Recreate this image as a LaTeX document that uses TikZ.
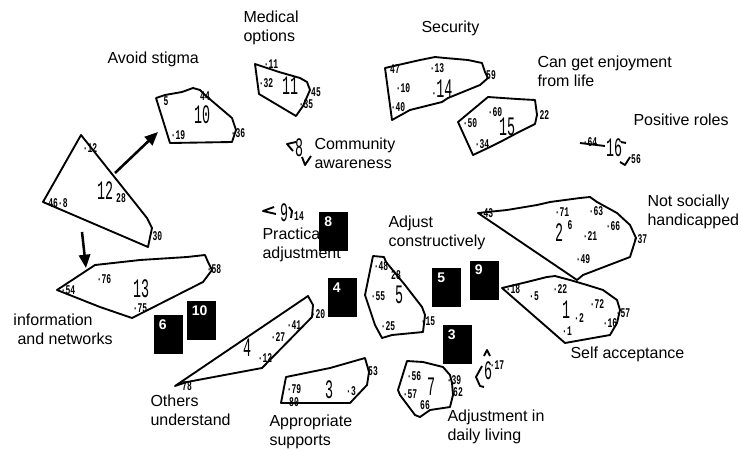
\documentclass[tikz,border=0pt]{standalone}
\usepackage{fontspec}
\setmainfont{Liberation Sans}
\newfontfamily\stmtfont[FakeStretch=0.6]{Liberation Mono}
\newfontfamily\clusfont[FakeStretch=0.5]{Liberation Mono}
\usetikzlibrary{arrows.meta}

\tikzset{every picture/.style={line width=0.75pt}}
\tikzset{
  cluline/.style={line width=1.4pt, line join=round},
  arr/.style={line width=1.9pt, -{Triangle[length=10pt,width=8.5pt]}},
  lbl/.style={anchor=north west, inner sep=0.75pt, align=left, font=\fontsize{12}{14.25}\selectfont},
  stmt/.style={inner sep=0pt, font=\stmtfont\bfseries\fontsize{10}{10}\selectfont},
  clus/.style={inner sep=0pt, font=\clusfont\fontsize{20}{20}\selectfont},
  numbox/.style={fill=black, inner sep=0pt, minimum width=21.75pt, minimum height=29.25pt},
  boxnum/.style={anchor=north west, inner sep=0pt, xshift=4pt, yshift=-3.5pt, text=white, font=\bfseries\fontsize{10.5}{10.5}\selectfont}
}

\begin{document}
\begin{tikzpicture}[x=0.75pt,y=0.75pt,yscale=-1,xscale=1]
	\useasboundingbox (0,0) rectangle (741,450);
	
	%Shape: Cluster 12
	\draw[cluline] (81,135) -- (147,218) -- (152,228) -- (148,247) -- (43,202) -- cycle ;
	\node[clus] (c12) at (105,191) {12};
	\node[stmt] (s12-12) at (90,148) {·12};
	\node[stmt] (s12-28) at (121,198) {28};
	\node[stmt] (s12-46) at (58,203) {46·8};
	\node[stmt] (s12-30) at (155,236) {·30};
	%Shape: Cluster 10
	\draw[cluline] (156,98) -- (165,95) -- (182,92) -- (193,88) -- (200,90) -- (205,95) -- (232,118) -- (236,130) -- (232,142) -- (170,143) -- cycle ;
	\node[clus] (c10) at (202,115) {10};
	\node[stmt] (s10-5) at (166,101) {5};
	\node[stmt] (s10-44) at (205,96) {44};
	\node[stmt] (s10-19) at (178,135) {·19};
	\node[stmt] (s10-36) at (238,133) {·36};
	%Shape: Cluster 11
	\draw[cluline] (255,64) -- (279,72) -- (300,78) -- (307,82) -- (310,90) -- (303,106) -- (296,116) -- (259,94) -- cycle ;
	\node[clus] (c11) at (290,86) {11};
	\node[stmt] (s11-11) at (271,64) {·11};
	\node[stmt] (s11-32) at (266,83) {·32};
	\node[stmt] (s11-45) at (316,92) {45};
	\node[stmt] (s11-35) at (306,104) {·35};
	%Shape: Cluster 8
	\draw[cluline] (296,142) -- (287,144) -- (293,151) ;
	\draw[cluline] (302,157) -- (305,165) -- (311,156) ;
	\node[clus] (c8) at (299,148) {8};
	%Shape: Cluster 9
	\draw[cluline] (274,207) -- (263,211) -- (276,214) ;
	\draw[cluline] (289,207) -- (292,211) -- (291,218) ;
	\node[clus] (c9) at (284,213) {9};
	\node[stmt] (s9-14) at (299,216) {14};
	%Shape: Cluster 14
	\draw[cluline] (385,68) -- (420,60) -- (435,57) -- (445,58) -- (468,60) -- (482,63) -- (485,72) -- (488,78) -- (480,85) -- (448,98) -- (442,102) -- (410,110) -- (392,120) -- cycle ;
	\node[clus] (c14) at (442,89) {{\stmtfont\bfseries\fontsize{10}{10}\selectfont·}14};
	\node[stmt] (s14-47) at (395,69) {47};
	\node[stmt] (s14-13) at (437,68) {·13};
	\node[stmt] (s14-10) at (403,88) {·10};
	\node[stmt] (s14-40) at (398,107) {·40};
	\node[stmt] (s14-59) at (491,75) {59};
	%Shape: Cluster 15
	\draw[cluline] (458,122) -- (488,97) -- (517,99) -- (535,100) -- (537,115) -- (535,124) -- (517,133) -- (502,141) -- (490,147) -- (473,155) -- cycle ;
	\node[clus] (c15) at (507,127) {15};
	\node[stmt] (s15-50) at (470,123) {·50};
	\node[stmt] (s15-60) at (495,112) {·60};
	\node[stmt] (s15-22) at (542,115) {·22};
	\node[stmt] (s15-34) at (482,144) {·34};
	%Shape: Cluster 16
	\draw[cluline] (580,143) -- (605,146) ;
	\draw[cluline] (621,142) -- (626,143) ;
	\draw[cluline] (620,162) -- (625,165) -- (630,157) ;
	\node[clus] (c16) at (614,148) {16};
	\node[stmt] (s16-64) at (590,142) {·64};
	\node[stmt] (s16-56) at (636,159) {56};
	%Shape: Cluster 2
	\draw[cluline] (478,213) -- (507,210) -- (537,205) -- (550,202) -- (580,198) -- (590,197) -- (597,202) -- (617,213) -- (630,225) -- (636,238) -- (630,257) -- (583,275) -- (577,280) -- cycle ;
	\node[clus] (c2) at (559,233) {2};
	\node[stmt] (s2-6) at (570,225) {6};
	\node[stmt] (s2-43) at (486,213) {·43};
	\node[stmt] (s2-71) at (562,212) {·71};
	\node[stmt] (s2-63) at (596,211) {·63};
	\node[stmt] (s2-21) at (590,236) {·21};
	\node[stmt] (s2-66) at (613,226) {·66};
	\node[stmt] (s2-37) at (640,239) {·37};
	\node[stmt] (s2-49) at (583,259) {·49};
	%Shape: Cluster 1
	\draw[cluline] (502,288) -- (527,282) -- (547,277) -- (555,276) -- (570,280) -- (587,285) -- (603,290) -- (617,300) -- (620,310) -- (617,323) -- (610,335) -- (593,338) -- (565,343) -- cycle ;
	\node[clus] (c1) at (566,310) {1};
	\node[stmt] (s1-18) at (513,289) {·18};
	\node[stmt] (s1-5) at (534,296) {·5};
	\node[stmt] (s1-22) at (560,289) {·22};
	\node[stmt] (s1-2) at (579,318) {·2};
	\node[stmt] (s1-72) at (597,304) {·72};
	\node[stmt] (s1-57) at (623,313) {·57};
	\node[stmt] (s1-16) at (610,323) {·16};
	\node[stmt] (s1-1) at (567,331) {·1};
	%Shape: Cluster 5
	\draw[cluline] (373,256) -- (384,257) -- (386,262) -- (405,285) -- (422,307) -- (425,315) -- (423,332) -- (392,335) -- (382,338) -- (375,325) -- (365,295) -- cycle ;
	\node[clus] (c5) at (399,295) {5};
	\node[stmt] (s5-48) at (381,266) {·48};
	\node[stmt] (s5-28) at (396,275) {28};
	\node[stmt] (s5-55) at (378,296) {·55};
	\node[stmt] (s5-25) at (388,326) {·25};
	\node[stmt] (s5-15) at (428,321) {·15};
	%Shape: Cluster 7
	\draw[cluline] (407,361) -- (423,362) -- (443,367) -- (450,375) -- (452,383) -- (453,395) -- (450,407) -- (430,410) -- (420,417) -- (415,415) -- (400,395) -- (398,390) -- cycle ;
	\node[clus] (c7) at (431,387) {7};
	\node[stmt] (s7-56) at (414,376) {·56};
	\node[stmt] (s7-57) at (410,394) {·57};
	\node[stmt] (s7-66) at (425,405) {66};
	\node[stmt] (s7-39) at (454,380) {·39};
	\node[stmt] (s7-62) at (458,392) {62};
	%Shape: Cluster 6
	\draw[cluline] (484,356) -- (487,350) -- (490,356) ;
	\draw[cluline] (482,366) -- (476,377) -- (480,386) -- (484,387) ;
	\node[clus] (c6) at (488,371) {6};
	\node[stmt] (s6-17) at (497,365) {·17};
	%Shape: Cluster 13
	\draw[cluline] (57,290) -- (95,265) -- (140,260) -- (187,257) -- (205,255) -- (208,262) -- (212,270) -- (203,282) -- (132,318) -- (100,307) -- cycle ;
	\node[clus] (c13) at (141,289) {13};
	\node[stmt] (s13-54) at (68,290) {·54};
	\node[stmt] (s13-76) at (104,279) {·76};
	\node[stmt] (s13-75) at (140,308) {·75};
	\node[stmt] (s13-58) at (214,269) {·58};
	%Shape: Cluster 4
	\draw[cluline] (175,386) -- (308,296) -- (313,305) -- (312,317) -- (262,368) -- (187,382) -- cycle ;
	\node[clus] (c4) at (247,348) {4};
	\node[stmt] (s4-78) at (187,386) {78};
	\node[stmt] (s4-27) at (278,337) {·27};
	\node[stmt] (s4-41) at (294,325) {·41};
	\node[stmt] (s4-20) at (318,314) {·20};
	\node[stmt] (s4-12) at (265,358) {·12};
	%Shape: Cluster 3
	\draw[cluline] (286,377) -- (330,368) -- (365,358) -- (369,372) -- (367,385) -- (350,403) -- (281,403) -- cycle ;
	\node[clus] (c3) at (329,390) {3};
	\node[stmt] (s3-79) at (294,389) {·79};
	\node[stmt] (s3-80) at (294,402) {80};
	\node[stmt] (s3-3) at (351,391) {·3};
	\node[stmt] (s3-53) at (373,371) {53};
	
	%Arrows
	\coordinate (a1s) at (115,173);
	\coordinate (a1e) at (158,132);
	\coordinate (a2s) at (82,232);
	\coordinate (a2e) at (86,268);
	\draw[arr] (a1s) -- (a1e) ;
	\draw[arr] (a2s) -- (a2e) ;
	
	% Text Node
	\node[lbl] (tmed) at (242,9) {Medical\\options};
	\node[lbl] (tstig) at (106,50.5) {Avoid stigma};
	\node[lbl] (tsec) at (420,19) {Security};
	\node[lbl] (tenj) at (536,54) {Can get enjoyment\\from life};
	\node[lbl] (tpos) at (632,112) {Positive roles};
	\node[lbl] (tcom) at (313,136) {Community\\awareness};
	\node[lbl] (tnot) at (646,193) {Not socially\\handicapped};
	\node[lbl] (tadj) at (387,214) {Adjust\\constructively};
	\node[lbl] (tpra) at (261,226) {Practical\\adjustment};
	\node[lbl] (tinf) at (12,312) {information\\\hspace*{3pt}and networks};
	\node[lbl] (toth) at (149,393) {Others\\understand};
	\node[lbl] (tapp) at (268,413) {Appropriate\\supports};
	\node[lbl] (tself) at (569,345) {Self acceptance};
	\node[lbl] (tdaily) at (446,408) {Adjustment in\\daily living};
	
	%Shape: Black boxes
	\node[numbox] (b8) at (333.5,231.5) {};
	\node[numbox] (b4) at (342,297.5) {};
	\node[numbox] (b5) at (446.5,287.5) {};
	\node[numbox] (b9) at (484,280) {};
	\node[numbox] (b3) at (457,344.5) {};
	\node[numbox] (b10) at (201,320.5) {};
	\node[numbox] (b6) at (168,334.5) {};
	\node[boxnum] (n8) at (b8.north west) {8};
	\node[boxnum] (n4) at (b4.north west) {4};
	\node[boxnum] (n5) at (b5.north west) {5};
	\node[boxnum] (n9) at (b9.north west) {9};
	\node[boxnum] (n3) at (b3.north west) {3};
	\node[boxnum] (n10) at (b10.north west) {10};
	\node[boxnum] (n6) at (b6.north west) {6};
	
\end{tikzpicture}
\end{document}
